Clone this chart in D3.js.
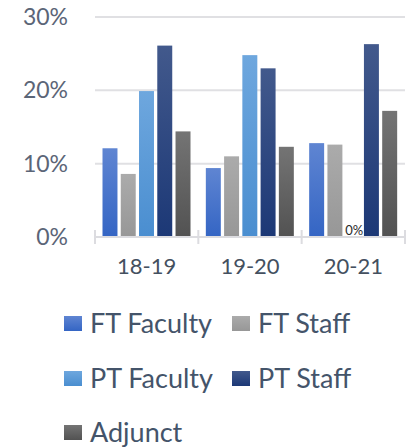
<!DOCTYPE html>
<html>
<head>
<meta charset="utf-8">
<title>staff chart</title>
<script src="https://cdn.jsdelivr.net/npm/d3@7"></script>
<style>
  body { margin: 0; background: #fff; }
  text { font-family: Lato, "Open Sans", sans-serif; }
</style>
</head>
<body>
<div id="chart"></div>
<script>
var categories = ["18-19", "19-20", "20-21"],
    series = ["FT Faculty", "FT Staff", "PT Faculty", "PT Staff", "Adjunct"],
    // percent values per series, one per category
    ftFaculty = [12.1, 9.4, 12.8],
    ftStaff   = [8.6, 11.0, 12.6],
    ptFaculty = [19.9, 24.8, 0],
    ptStaff   = [26.1, 23.0, 26.3],
    adjunct   = [14.4, 12.3, 17.2],
    yTicks = [0, 10, 20, 30];

var values = [ftFaculty, ftStaff, ptFaculty, ptStaff, adjunct];

// top / bottom colour of each bar gradient
var colors = [
    ["#5f85d2", "#3465c4"],
    ["#ababab", "#979797"],
    ["#6ea7de", "#4a8ed0"],
    ["#42598c", "#1c3876"],
    ["#747474", "#525252"]
];

var width = 416, height = 447;

var svg = d3.select("#chart").append("svg")
    .attr("width", width)
    .attr("height", height);

var defs = svg.append("defs");
colors.forEach(function(c, i) {
    var g = defs.append("linearGradient")
        .attr("id", "grad" + i)
        .attr("x1", 0).attr("y1", 0).attr("x2", 0).attr("y2", 1);
    g.append("stop").attr("offset", "0%").attr("stop-color", c[0]);
    g.append("stop").attr("offset", "100%").attr("stop-color", c[1]);
});

var x0 = d3.scaleBand().domain(categories).range([95, 405]);
var x1 = d3.scaleBand().domain(series).range([7.5, 95.5]).paddingInner(0.18);
var y = d3.scaleLinear().domain([0, 30]).range([237, 17]);

// gridlines
svg.selectAll(".grid")
    .data(yTicks.slice(1))
    .enter().append("line")
    .attr("x1", 95).attr("x2", 405)
    .attr("y1", function(d) { return y(d); })
    .attr("y2", function(d) { return y(d); })
    .style("stroke", "#e0e0e3")
    .style("stroke-width", 2);

// y labels
svg.selectAll(".ylab")
    .data(yTicks)
    .enter().append("text")
    .attr("x", 68)
    .attr("y", function(d) { return y(d) + 8; })
    .attr("text-anchor", "end")
    .style("font-size", "23px")
    .style("fill", "#5b6577")
    .text(function(d) { return d + "%"; });

// bars
var group = svg.selectAll(".grp")
    .data(categories)
    .enter().append("g")
    .attr("transform", function(d) { return "translate(" + x0(d) + ",0)"; });

group.selectAll("rect")
    .data(function(d, ci) { return series.map(function(s, si) { return {s: s, si: si, v: values[si][ci]}; }); })
    .enter().append("rect")
    .attr("x", function(d) { return x1(d.s); })
    .attr("width", x1.bandwidth())
    .attr("y", function(d) { return y(d.v); })
    .attr("height", function(d) { return y(0) - y(d.v); })
    .style("fill", function(d) { return "url(#grad" + d.si + ")"; });

// zero label
group.selectAll(".zero")
    .data(function(d, ci) { return series.map(function(s, si) { return {s: s, v: values[si][ci]}; }).filter(function(d) { return d.v === 0; }); })
    .enter().append("text")
    .attr("x", function(d) { return x1(d.s) + x1.bandwidth() / 2 + 1; })
    .attr("y", y(0) - 2)
    .attr("text-anchor", "middle")
    .style("font-size", "13px")
    .style("fill", "#2a2a2a")
    .text("0%");

// baseline axis with ticks
svg.append("line")
    .attr("x1", 95).attr("x2", 405)
    .attr("y1", y(0)).attr("y2", y(0))
    .style("stroke", "#dcdce0").style("stroke-width", 2);

var tickX = categories.map(function(c) { return x0(c); }).concat([405]);
svg.selectAll(".tick")
    .data(tickX)
    .enter().append("line")
    .attr("x1", function(d) { return d; }).attr("x2", function(d) { return d; })
    .attr("y1", y(0) - 7).attr("y2", y(0) + 7)
    .style("stroke", "#dcdce0").style("stroke-width", 2);

svg.selectAll(".xlab")
    .data(categories)
    .enter().append("text")
    .attr("x", function(d) { return x0(d) + x0.bandwidth() / 2; })
    .attr("y", 274)
    .attr("text-anchor", "middle")
    .style("font-size", "22px")
    .style("fill", "#44505f")
    .text(function(d) { return d; });

// legend
var legendPos = [[64, 323], [232, 323], [64, 378], [232, 378], [64, 432]];
var legend = svg.selectAll(".leg")
    .data(series)
    .enter().append("g")
    .attr("transform", function(d, i) { return "translate(" + legendPos[i][0] + "," + legendPos[i][1] + ")"; });

legend.append("rect")
    .attr("x", 0).attr("y", -7)
    .attr("width", 18).attr("height", 15)
    .style("fill", function(d, i) { return "url(#grad" + i + ")"; });

legend.append("text")
    .attr("x", 26)
    .attr("y", 10)
    .style("font-size", "27px")
    .style("fill", "#44546a")
    .text(function(d) { return d; });
</script>
</body>
</html>
